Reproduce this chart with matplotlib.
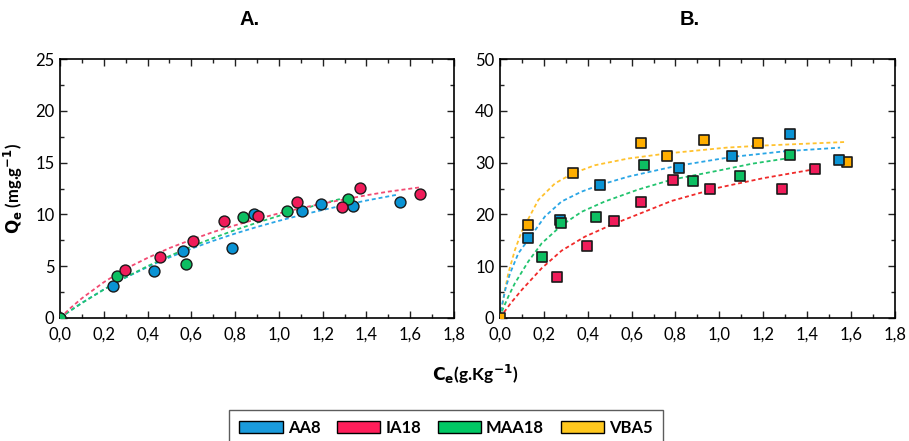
"""Adsorption isotherms, panels A and B, with dashed model fits."""

import matplotlib.pyplot as plt
from matplotlib.patches import Patch
from matplotlib.ticker import MultipleLocator, FormatStrFormatter

plt.rcParams["font.family"] = ["Lato", "DejaVu Sans"]

# ---- panel A: measured points (circles) ----
a_aa8_ce = [0.0, 0.244, 0.429, 0.563, 0.784, 0.885, 1.104, 1.194, 1.341, 1.554]
a_aa8_qe = [0.0, 3.06, 4.57, 6.44, 6.76, 10.07, 10.30, 10.97, 10.78, 11.20]
a_ia18_ce = [0.296, 0.455, 0.606, 0.750, 0.904, 1.083, 1.290, 1.373, 1.643]
a_ia18_qe = [4.60, 5.92, 7.43, 9.40, 9.88, 11.20, 10.72, 12.55, 11.97]
a_maa18_ce = [0.0, 0.262, 0.577, 0.834, 1.037, 1.318]
a_maa18_qe = [0.0, 4.09, 5.25, 9.78, 10.36, 11.52]

# ---- panel A: fitted curves ----
a_fit_aa8_ce = [0.0, 0.05, 0.1, 0.2, 0.3, 0.4, 0.5, 0.6, 0.7, 0.8, 0.9, 1.0, 1.1, 1.2, 1.3, 1.4, 1.54]
a_fit_aa8_qe = [0.0, 0.75, 1.46, 2.75, 3.90, 4.92, 5.85, 6.69, 7.45, 8.15, 8.79, 9.38, 9.93, 10.43, 10.90, 11.34, 11.90]
a_fit_ia18_ce = [0.0, 0.05, 0.1, 0.2, 0.3, 0.4, 0.5, 0.6, 0.7, 0.8, 0.9, 1.0, 1.1, 1.2, 1.3, 1.4, 1.5, 1.64]
a_fit_ia18_qe = [0.0, 1.0, 1.9, 3.45, 4.75, 5.8, 6.75, 7.55, 8.3, 8.95, 9.55, 10.1, 10.6, 11.05, 11.45, 11.85, 12.2, 12.6]
a_fit_maa18_ce = [0.0, 0.05, 0.1, 0.2, 0.3, 0.4, 0.5, 0.6, 0.7, 0.8, 0.9, 1.0, 1.1, 1.2, 1.32]
a_fit_maa18_qe = [0.0, 0.74, 1.44, 2.74, 3.93, 5.00, 5.98, 6.89, 7.72, 8.49, 9.20, 9.86, 10.48, 11.06, 11.70]

# ---- panel B: measured points (squares) ----
b_aa8_ce = [0.126, 0.275, 0.457, 0.816, 1.056, 1.322, 1.543]
b_aa8_qe = [15.51, 18.98, 25.61, 28.89, 31.34, 35.52, 30.50]
b_ia18_ce = [0.258, 0.395, 0.518, 0.644, 0.787, 0.958, 1.287, 1.434]
b_ia18_qe = [7.98, 13.90, 18.66, 22.46, 26.64, 24.84, 24.97, 28.70]
b_maa18_ce = [0.191, 0.280, 0.440, 0.655, 0.881, 1.092, 1.322]
b_maa18_qe = [11.71, 18.28, 19.56, 29.54, 26.38, 27.41, 31.40]
b_vba5_ce = [0.0, 0.126, 0.333, 0.644, 0.761, 0.931, 1.177, 1.581]
b_vba5_qe = [0.0, 17.95, 27.93, 33.85, 31.27, 34.36, 33.72, 30.12]

# ---- panel B: fitted curves ----
b_fit_aa8_ce = [0.0, 0.008, 0.025, 0.046, 0.084, 0.129, 0.205, 0.281, 0.372, 0.456, 0.585, 0.797, 1.056, 1.3, 1.55]
b_fit_aa8_qe = [0.0, 2.2, 5.6, 8.6, 12.5, 15.1, 19.6, 22.5, 24.4, 25.7, 27.3, 29.3, 31.1, 32.2, 32.9]
b_fit_ia18_ce = [0.0, 0.015, 0.05, 0.099, 0.19, 0.281, 0.387, 0.509, 0.646, 0.782, 1.0, 1.2, 1.43]
b_fit_ia18_qe = [0.0, 0.9, 2.9, 5.4, 9.6, 13.0, 15.7, 18.0, 20.3, 22.6, 25.2, 27.0, 28.7]
b_fit_maa18_ce = [0.0, 0.015, 0.04, 0.068, 0.129, 0.19, 0.281, 0.372, 0.478, 0.63, 0.782, 1.0, 1.15, 1.32]
b_fit_maa18_qe = [0.0, 1.9, 4.3, 6.7, 10.9, 14.4, 17.9, 20.5, 22.5, 24.8, 26.7, 28.5, 29.8, 30.9]
b_fit_vba5_ce = [0.0, 0.008, 0.02, 0.038, 0.068, 0.099, 0.175, 0.251, 0.331, 0.433, 0.585, 0.767, 1.033, 1.2, 1.58]
b_fit_vba5_qe = [0.0, 1.6, 4.8, 8.6, 13.1, 16.7, 22.8, 26.0, 27.9, 29.5, 30.8, 31.8, 32.9, 33.3, 34.0]

labels = ["AA8", "IA18", "MAA18", "VBA5"]
fill = {"AA8": "#0A93D4", "IA18": "#F01C5A", "MAA18": "#0DBF62", "VBA5": "#FFAE00"}
legend_fill = {"AA8": "#1A9BDC", "IA18": "#FF1E5A", "MAA18": "#00C864", "VBA5": "#FFC81E"}
fit_a = {"AA8": "#2AA6E6", "IA18": "#F24A72", "MAA18": "#22C46E"}
fit_b = {"AA8": "#2AA6E6", "IA18": "#F02A2A", "MAA18": "#22C46E", "VBA5": "#FFC22E"}

fig = plt.figure(figsize=(9.09, 4.41), dpi=100)
ax_a = fig.add_axes([0.066, 0.279, 0.4334, 0.587])
ax_b = fig.add_axes([0.550, 0.279, 0.4345, 0.587])

dash = dict(linestyle=(0, (2.2, 1.6)), linewidth=1.3, zorder=2)

ax_a.plot(a_fit_aa8_ce, a_fit_aa8_qe, color=fit_a["AA8"], **dash)
ax_a.plot(a_fit_maa18_ce, a_fit_maa18_qe, color=fit_a["MAA18"], **dash)
ax_a.plot(a_fit_ia18_ce, a_fit_ia18_qe, color=fit_a["IA18"], **dash)

circ = dict(marker="o", s=62, edgecolors="#1a1a1a", linewidths=1.0, zorder=3)
ax_a.scatter(a_aa8_ce, a_aa8_qe, color=fill["AA8"], **circ)
ax_a.scatter(a_maa18_ce, a_maa18_qe, color=fill["MAA18"], **circ)
ax_a.scatter(a_ia18_ce, a_ia18_qe, color=fill["IA18"], **circ)

ax_b.plot(b_fit_vba5_ce, b_fit_vba5_qe, color=fit_b["VBA5"], **dash)
ax_b.plot(b_fit_aa8_ce, b_fit_aa8_qe, color=fit_b["AA8"], **dash)
ax_b.plot(b_fit_maa18_ce, b_fit_maa18_qe, color=fit_b["MAA18"], **dash)
ax_b.plot(b_fit_ia18_ce, b_fit_ia18_qe, color=fit_b["IA18"], **dash)

sq = dict(marker="s", s=52, edgecolors="#1a1a1a", linewidths=1.2, zorder=3)
ax_b.scatter(b_vba5_ce, b_vba5_qe, color=fill["VBA5"], **sq)
ax_b.scatter(b_aa8_ce, b_aa8_qe, color=fill["AA8"], **sq)
ax_b.scatter(b_maa18_ce, b_maa18_qe, color=fill["MAA18"], **sq)
ax_b.scatter(b_ia18_ce, b_ia18_qe, color=fill["IA18"], **sq)

for ax, ymax, ystep, title in ((ax_a, 25, 5, "A."), (ax_b, 50, 10, "B.")):
    ax.set_xlim(0, 1.8)
    ax.set_ylim(0, ymax)
    ax.xaxis.set_major_locator(MultipleLocator(0.2))
    ax.xaxis.set_minor_locator(MultipleLocator(0.1))
    ax.yaxis.set_major_locator(MultipleLocator(ystep))
    ax.yaxis.set_minor_locator(MultipleLocator(ystep / 2))
    ax.xaxis.set_major_formatter(
        plt.FuncFormatter(lambda v, _: f"{v:.1f}".replace(".", ","))
    )
    ax.yaxis.set_major_formatter(FormatStrFormatter("%d"))
    ax.tick_params(which="both", direction="in", top=True, right=True,
                   labelsize=12, width=1.0, color="#222222")
    ax.tick_params(which="major", length=5, pad=4)
    ax.tick_params(axis="x", which="major", pad=6)
    ax.tick_params(which="minor", length=3)
    for sp in ax.spines.values():
        sp.set_linewidth(1.2)
    ax.text(0.48, 1.154, title, transform=ax.transAxes, ha="center", va="center",
            fontsize=14.5, fontweight="bold", family=["Liberation Sans", "DejaVu Sans"])

ax_a.set_ylabel(r"$\mathbf{Q_e}$ (mg.g$^{\mathbf{-1}}$)", fontsize=12,
                fontweight="bold", labelpad=7)
fig.text(0.5226, 0.15, r"$\mathbf{C_e}$(g.Kg$^{\mathbf{-1}}$)", ha="center",
         va="center", fontsize=12.5, fontweight="bold")

handles = [Patch(facecolor=legend_fill[k], edgecolor="black", linewidth=1.0) for k in labels]
leg = fig.legend(handles, labels, loc="upper center", bbox_to_anchor=(0.4906, 0.0703),
                 borderaxespad=0, ncol=4, frameon=True, fancybox=False,
                 edgecolor="#333333", handlelength=2.6, handleheight=0.75,
                 handletextpad=0.3, columnspacing=1.0, borderpad=0.6,
                 prop={"weight": "bold", "size": 12})
leg.get_frame().set_linewidth(1.0)

fig.savefig("out.png", dpi=100)
